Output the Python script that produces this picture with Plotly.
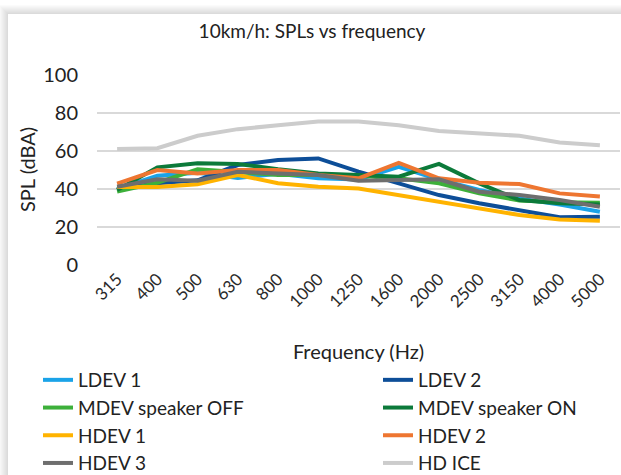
import plotly.graph_objects as go

freqs = ["315", "400", "500", "630", "800", "1000", "1250", "1600", "2000", "2500", "3150", "4000", "5000"]

ldev1 = [40.0, 47.0, 48.5, 45.8, 48.0, 45.6, 45.0, 51.7, 45.0, 39.5, 35.0, 31.8, 28.0]
ldev2 = [40.0, 43.0, 44.6, 52.6, 55.3, 56.1, 49.1, 43.0, 36.8, 32.5, 28.9, 25.1, 25.4]
mdev_off = [38.6, 43.3, 50.4, 49.0, 47.4, 47.4, 47.0, 45.6, 43.0, 37.7, 34.0, 33.0, 32.8]
mdev_on = [39.5, 51.4, 53.5, 53.2, 50.4, 48.2, 47.4, 46.5, 53.2, 43.0, 34.2, 32.5, 31.9]
hdev1 = [41.0, 41.0, 42.5, 47.4, 43.0, 41.2, 40.3, 36.8, 32.8, 29.8, 26.3, 24.0, 23.3]
hdev2 = [42.8, 50.0, 48.2, 50.0, 50.0, 47.4, 45.6, 53.8, 45.6, 43.3, 42.6, 37.7, 36.0]
hdev3 = [41.2, 45.1, 44.4, 49.1, 48.2, 47.4, 44.4, 44.6, 45.1, 38.6, 36.8, 34.2, 30.7]
hd_ice = [61.0, 61.5, 68.0, 71.5, 73.5, 75.5, 75.5, 73.5, 70.5, 69.5, 68.0, 64.5, 63.0]

series_names = ["LDEV 1", "LDEV 2", "MDEV speaker OFF", "MDEV speaker ON",
                "HDEV 1", "HDEV 2", "HDEV 3", "HD ICE"]
series_values = [ldev1, ldev2, mdev_off, mdev_on, hdev1, hdev2, hdev3, hd_ice]
series_colors = ["#1AA3E8", "#0D4E98", "#3DB03A", "#0C7A3A",
                 "#FFB300", "#EE7631", "#6E6E6E", "#CCCCCC"]
# legend column for each series (Excel-style two-column legend)
series_legend = ["legend", "legend2", "legend", "legend2",
                 "legend", "legend2", "legend", "legend2"]

FONT = "Lato, Noto Sans, sans-serif"
TXT = "#222222"

fig = go.Figure()
for name, vals, col, lg in zip(series_names, series_values, series_colors, series_legend):
    fig.add_trace(go.Scatter(x=freqs, y=vals, name=name, mode="lines", legend=lg,
                             line=dict(color=col, width=4)))

# plot area geometry in pixels
L, R, T, B = 97, 620, 75, 265
W, H = 621, 475

def px(X):
    return (X - L) / (R - L)

def py(Y):
    return (B - Y) / (B - T)

shapes = []
for k in range(9, 0, -1):
    shapes.append(dict(type="rect", xref="paper", yref="paper", layer="below",
                       x0=px(8 - k), x1=px(800), y0=py(800), y1=py(14 - k),
                       line=dict(width=0), fillcolor="rgba(0,0,0,0.016)"))
shapes.append(dict(type="rect", xref="paper", yref="paper", layer="below",
                   x0=px(8), x1=px(800), y0=py(800), y1=py(14),
                   line=dict(width=0), fillcolor="white"))

leg_common = dict(orientation="v", xref="container", yref="container",
                  xanchor="left", yanchor="top", y=1 - 361 / H,
                  font=dict(family=FONT, size=19, color=TXT),
                  bgcolor="rgba(0,0,0,0)", traceorder="normal", maxheight=200)

fig.update_layout(
    width=W, height=H,
    margin=dict(l=L, r=W - R, t=T, b=H - B, pad=0, autoexpand=False),
    paper_bgcolor="white", plot_bgcolor="rgba(0,0,0,0)",
    font=dict(family=FONT, size=19, color=TXT),
    title=dict(text="10km/h: SPLs vs frequency", x=312 / W, xanchor="center",
               xref="container", y=1 - 31 / H, yanchor="middle", yref="container",
               font=dict(family=FONT, size=19, color=TXT)),
    shapes=shapes,
    showlegend=True,
    legend=dict(x=38 / W, **leg_common),
    legend2=dict(x=378 / W, **leg_common),
    annotations=[dict(text="SPL (dBA)", textangle=-90, xref="paper", yref="paper",
                      x=px(27), y=py(170), xanchor="center", yanchor="middle",
                      showarrow=False, font=dict(family=FONT, size=20, color=TXT))],
)
fig.update_xaxes(type="category", range=[-0.5, len(freqs) - 0.5], tickangle=-45,
                 showgrid=False, showline=False, ticks="", automargin=False,
                 tickfont=dict(family=FONT, size=17, color="#2a2a2a"),
                 title=dict(text="Frequency (Hz)", standoff=34,
                            font=dict(family=FONT, size=20, color=TXT)))
fig.update_yaxes(range=[0, 100], dtick=20, showgrid=True, gridcolor="#D9D9D9",
                 gridwidth=1.5, zeroline=False, showline=False, ticks="",
                 ticklabelstandoff=18, automargin=False,
                 tickfont=dict(family=FONT, size=20, color=TXT))

fig.write_html("out.html", config={"displayModeBar": False},
               post_script="document.body.style.margin='0';document.body.style.overflow='hidden';")
